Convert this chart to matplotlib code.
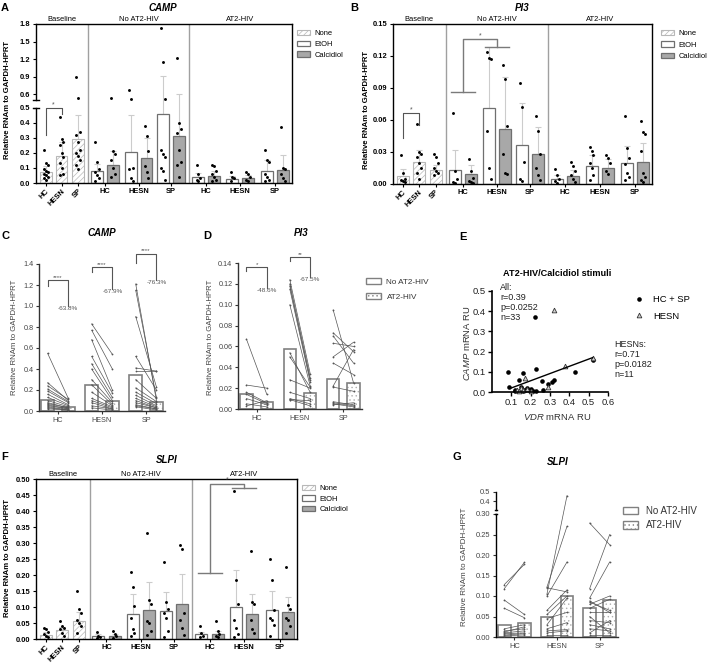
import numpy as np
import matplotlib
matplotlib.use("Agg")
import matplotlib.pyplot as plt
from matplotlib.patches import Patch
from matplotlib.lines import Line2D
import matplotlib.transforms as mtrans

plt.rcParams['font.family'] = ['Liberation Sans', 'DejaVu Sans']
plt.rcParams['mathtext.fontset'] = 'custom'
plt.rcParams['mathtext.it'] = 'Liberation Sans:italic'
plt.rcParams['mathtext.rm'] = 'Liberation Sans'
plt.rcParams['hatch.linewidth'] = 0.5

# ------------------------------------------------------------------ data
groups = ["HC", "HESN", "SP"]
sections = ["Baseline", "No AT2-HIV", "AT2-HIV"]
stimuli = ["None", "EtOH", "Calcidiol"]
conditions = ["No AT2-HIV", "AT2-HIV"]

# Panel A (CAMP) - etoh / calc lists: No AT2-HIV HC,HESN,SP then AT2-HIV HC,HESN,SP
A_none_mean = [0.075, 0.18, 0.29]
A_none_sd = [0.035, 0.09, 0.16]
A_none_pts = [[0.22, 0.13, 0.12, 0.09, 0.08, 0.07, 0.06, 0.05, 0.04, 0.03, 0.02],
              [0.44, 0.29, 0.27, 0.25, 0.20, 0.17, 0.13, 0.10, 0.06, 0.05],
              [0.89, 0.53, 0.34, 0.32, 0.27, 0.22, 0.20, 0.18, 0.15, 0.12, 0.09]]
A_etoh_mean = [0.08, 0.205, 0.46, 0.04, 0.027, 0.08]
A_etoh_sd = [0.045, 0.25, 0.45, 0.025, 0.018, 0.07]
A_etoh_pts = [[0.27, 0.14, 0.09, 0.07, 0.05, 0.03, 0.01],
              [0.67, 0.52, 0.10, 0.09, 0.03, 0.01],
              [1.74, 1.15, 0.52, 0.22, 0.19, 0.17, 0.10, 0.08, 0.02],
              [0.12, 0.06, 0.03, 0.02, 0.01],
              [0.075, 0.04, 0.03, 0.01],
              [0.22, 0.15, 0.14, 0.06, 0.04, 0.02, 0.01]]
A_calc_mean = [0.12, 0.165, 0.315, 0.048, 0.03, 0.088]
A_calc_sd = [0.09, 0.135, 0.285, 0.032, 0.025, 0.10]
A_calc_pts = [[0.54, 0.21, 0.19, 0.15, 0.10, 0.06, 0.04],
              [0.38, 0.31, 0.21, 0.11, 0.07, 0.03],
              [1.21, 0.40, 0.36, 0.33, 0.22, 0.14, 0.12, 0.04],
              [0.12, 0.11, 0.08, 0.06, 0.04, 0.02, 0.01],
              [0.07, 0.06, 0.04, 0.02, 0.01],
              [0.37, 0.10, 0.09, 0.06, 0.03, 0.01]]

# Panel B (PI3)
B_none_mean = [0.0075, 0.021, 0.013]
B_none_sd = [0.007, 0.011, 0.005]
B_none_pts = [[0.027, 0.010, 0.005, 0.004, 0.003, 0.002],
              [0.056, 0.030, 0.028, 0.025, 0.020, 0.015, 0.010, 0.005],
              [0.028, 0.025, 0.020, 0.015, 0.012, 0.010, 0.008]]
B_etoh_mean = [0.013, 0.0715, 0.037, 0.005, 0.017, 0.0195]
B_etoh_sd = [0.019, 0.057, 0.039, 0.003, 0.010, 0.016]
B_etoh_pts = [[0.067, 0.012, 0.005, 0.002, 0.001],
              [0.124, 0.118, 0.117, 0.050, 0.015, 0.005],
              [0.095, 0.072, 0.021, 0.005, 0.003],
              [0.014, 0.008, 0.005, 0.003, 0.001],
              [0.035, 0.031, 0.027, 0.020, 0.015, 0.008, 0.004],
              [0.064, 0.034, 0.024, 0.019, 0.010, 0.007, 0.004]]
B_calc_mean = [0.0095, 0.052, 0.028, 0.0075, 0.015, 0.021]
B_calc_sd = [0.0085, 0.048, 0.025, 0.0055, 0.008, 0.017]
B_calc_pts = [[0.023, 0.012, 0.006, 0.003, 0.002, 0.001],
              [0.112, 0.098, 0.054, 0.028, 0.010, 0.009],
              [0.064, 0.050, 0.028, 0.015, 0.008, 0.004],
              [0.021, 0.017, 0.012, 0.008, 0.005, 0.002],
              [0.027, 0.024, 0.020, 0.012, 0.009],
              [0.059, 0.049, 0.047, 0.031, 0.010, 0.007, 0.004, 0.002]]

# Panel F (SLPI)
F_none_mean = [0.013, 0.028, 0.056]
F_none_sd = [0.009, 0.008, 0.029]
F_none_pts = [[0.035, 0.030, 0.022, 0.015, 0.010, 0.005],
              [0.055, 0.040, 0.035, 0.030, 0.020, 0.010],
              [0.150, 0.095, 0.080, 0.060, 0.050, 0.040, 0.020]]
F_etoh_mean = [0.010, 0.078, 0.088, 0.015, 0.100, 0.091]
F_etoh_sd = [0.006, 0.062, 0.060, 0.007, 0.115, 0.059]
F_etoh_pts = [[0.022, 0.010, 0.005, 0.002],
              [0.210, 0.162, 0.103, 0.065, 0.030, 0.020, 0.010],
              [0.242, 0.115, 0.095, 0.082, 0.065, 0.025, 0.005],
              [0.040, 0.020, 0.010, 0.005],
              [0.463, 0.185, 0.110, 0.058, 0.035, 0.015, 0.005],
              [0.250, 0.184, 0.092, 0.065, 0.060, 0.045, 0.010]]
F_calc_mean = [0.010, 0.091, 0.108, 0.016, 0.078, 0.084]
F_calc_sd = [0.006, 0.087, 0.094, 0.010, 0.062, 0.047]
F_calc_pts = [[0.025, 0.015, 0.008, 0.004],
              [0.332, 0.122, 0.108, 0.055, 0.050, 0.025, 0.012],
              [0.293, 0.280, 0.080, 0.060, 0.035, 0.012],
              [0.055, 0.025, 0.015, 0.010, 0.005],
              [0.276, 0.115, 0.110, 0.058, 0.030, 0.020],
              [0.226, 0.105, 0.095, 0.065, 0.060, 0.040, 0.020]]

# Panel C (CAMP, paired)
C_no_mean = [0.105, 0.245, 0.345]
C_at_mean = [0.038, 0.095, 0.082]
C_no_vals = [[0.55, 0.27, 0.24, 0.21, 0.19, 0.16, 0.13, 0.10, 0.08, 0.07, 0.06, 0.05, 0.04, 0.03, 0.02],
             [0.83, 0.77, 0.68, 0.52, 0.45, 0.40, 0.30, 0.25, 0.18, 0.12, 0.10, 0.08, 0.05, 0.03],
             [1.21, 1.15, 0.90, 0.52, 0.41, 0.38, 0.30, 0.22, 0.18, 0.15, 0.12, 0.10, 0.08, 0.06, 0.05, 0.04]]
C_at_vals = [[0.12, 0.10, 0.11, 0.09, 0.08, 0.06, 0.05, 0.04, 0.03, 0.03, 0.02, 0.02, 0.01, 0.01, 0.01],
             [0.54, 0.40, 0.20, 0.17, 0.13, 0.10, 0.08, 0.06, 0.05, 0.04, 0.03, 0.02, 0.02, 0.01],
             [0.10, 0.13, 0.23, 0.20, 0.38, 0.38, 0.12, 0.09, 0.07, 0.05, 0.04, 0.03, 0.03, 0.02, 0.02, 0.01]]
C_sig = ["****", "****", "****"]
C_change = ["-63.8%", "-67.9%", "-76.3%"]
C_br_top = [1.245, 1.37, 1.50]
C_br_left = [1.19, 1.32, 1.41]
C_br_right = [1.00, 1.16, 1.25]

# Panel D (PI3, paired)
D_no_mean = [0.0144, 0.0575, 0.0288]
D_at_mean = [0.0067, 0.0153, 0.025]
D_no_vals = [[0.067, 0.023, 0.016, 0.014, 0.010, 0.005, 0.003],
             [0.124, 0.120, 0.118, 0.115, 0.100, 0.054, 0.050, 0.028, 0.016, 0.010, 0.009, 0.009],
             [0.095, 0.073, 0.070, 0.063, 0.050, 0.044, 0.022, 0.021, 0.007, 0.006, 0.005, 0.004]]
D_at_vals = [[0.014, 0.020, 0.006, 0.005, 0.004, 0.002, 0.008],
             [0.034, 0.030, 0.028, 0.026, 0.022, 0.016, 0.021, 0.020, 0.010, 0.005, 0.008, 0.003],
             [0.025, 0.055, 0.044, 0.060, 0.064, 0.033, 0.057, 0.017, 0.004, 0.003, 0.002, 0.006]]
D_sig = ["*", "**"]
D_change = ["-48.6%", "-67.5%"]
D_br_top = [0.136, 0.146]
D_br_left = [0.132, 0.142]
D_br_right = [0.116, 0.127]

# Panel E (correlation)
E_hcsp_vdr = [0.085, 0.09, 0.12, 0.12, 0.14, 0.15, 0.155, 0.16, 0.16, 0.17, 0.18, 0.19,
              0.20, 0.21, 0.22, 0.23, 0.23, 0.26, 0.265, 0.29, 0.31, 0.32, 0.43, 0.52]
E_hcsp_camp = [0.10, 0.025, 0.01, 0.005, 0.06, 0.025, 0.015, 0.095, 0.005, 0.01, 0.02, 0.01,
               0.015, 0.005, 0.37, 0.115, 0.005, 0.055, 0.012, 0.04, 0.05, 0.06, 0.10, 0.16]
E_hesn_vdr = [0.32, 0.17, 0.38, 0.29, 0.15, 0.13, 0.16, 0.20, 0.18, 0.52, 0.14]
E_hesn_camp = [0.405, 0.07, 0.13, 0.025, 0.02, 0.01, 0.01, 0.005, 0.015, 0.17, 0.005]
E_fit_vdr = [0.10, 0.52]
E_fit_camp = [0.02, 0.17]
E_all_stats = "All:\nr=0.39\np=0.0252\nn=33"
E_hesn_stats = "HESNs:\nr=0.71\np=0.0182\nn=11"

# Panel G (SLPI, paired)
G_no_mean = [0.030, 0.050, 0.070]
G_at_mean = [0.035, 0.100, 0.091]
G_no_vals = [[0.128, 0.118, 0.090, 0.070, 0.020, 0.015, 0.012, 0.010, 0.008, 0.005, 0.003],
             [0.122, 0.120, 0.105, 0.100, 0.065, 0.055, 0.045, 0.030, 0.020, 0.015, 0.010, 0.005],
             [0.278, 0.118, 0.095, 0.088, 0.085, 0.080, 0.070, 0.060, 0.050, 0.040, 0.030, 0.020, 0.010, 0.005]]
G_at_vals = [[0.177, 0.182, 0.055, 0.047, 0.030, 0.020, 0.025, 0.015, 0.010, 0.008, 0.005],
             [0.270, 0.110, 0.460, 0.183, 0.115, 0.100, 0.060, 0.095, 0.035, 0.018, 0.015, 0.005],
             [0.225, 0.250, 0.183, 0.060, 0.065, 0.100, 0.092, 0.060, 0.010, 0.035, 0.020, 0.015, 0.040, 0.005]]

# ------------------------------------------------------------------ layout
W, H = 708, 663
fig = plt.figure(figsize=(W / 100, H / 100), dpi=100)


def fx(px):
    return px / W


def fy(py):
    return 1 - py / H


def add_ax(l, t, r, b):
    return fig.add_axes([fx(l), fy(b), (r - l) / W, (b - t) / H])


def broken_scale(cut, gap, lo, hi):
    def fwd(y):
        y = np.asarray(y, float)
        return np.where(y <= cut, y * lo, cut * lo + gap + (y - cut) * hi)

    def inv(v):
        v = np.asarray(v, float)
        top = cut * lo
        return np.where(v <= top, v / lo,
                        np.where(v < top + gap, cut, cut + (v - top - gap) / hi))
    return fwd, inv


BASE_X = np.array([3.8, 10.0, 16.5])
PAIR_C = np.array([27.0, 40.1, 52.8, 66.5, 79.8, 93.4])
PAIR_OFF = 3.1
DIV_X = [20.5, 59.7]
SEC_X = [10.2, 40.1, 79.9]
BAR_W = 4.6
ERR_C = '#cccccc'
EDGE_C = '#6f6f6f'
CALC_C = '#a8a8a8'
HATCH_C = '#b8b8b8'


def grouped_panel(ax, nm, nsd, npts, em, esd, epts, cm, csd, cpts):
    ax.set_xlim(0, 100)

    def draw(xs, means, sds, pts, **kw):
        ax.bar(xs, means, BAR_W, zorder=2, **kw)
        ax.errorbar(xs, means, yerr=[np.zeros(len(means)), sds], fmt='none',
                    ecolor=ERR_C, elinewidth=0.8, capsize=2, capthick=0.8, zorder=1.5)
        for x, p in zip(xs, pts):
            offs = ((np.arange(len(p)) % 3) - 1) * 0.7
            ax.plot(x + offs, p, 'o', color='black', ms=2.1, mew=0, zorder=3)

    draw(BASE_X, nm, nsd, npts, facecolor='white', edgecolor=HATCH_C, hatch='//////', lw=0.8)
    draw(PAIR_C - PAIR_OFF, em, esd, epts, facecolor='white', edgecolor=EDGE_C, lw=0.9)
    draw(PAIR_C + PAIR_OFF, cm, csd, cpts, facecolor=CALC_C, edgecolor=EDGE_C, lw=0.9)
    for d in DIV_X:
        ax.axvline(d, color='#a0a0a0', lw=1.0, zorder=1)
    tr = mtrans.blended_transform_factory(ax.transData, ax.transAxes)
    for s, x in zip(sections, SEC_X):
        ax.text(x, 1.008, s, transform=tr, ha='center', va='bottom', fontsize=5.4)
    ax.set_xticks(list(BASE_X) + list(PAIR_C[:3]) + list(PAIR_C[3:]))
    ax.set_xticklabels(groups * 3)
    for i, lbl in enumerate(ax.get_xticklabels()):
        lbl.set_fontweight('bold')
        if i < 3:
            lbl.set_rotation(45)
            lbl.set_ha('right')
            lbl.set_rotation_mode('anchor')
    for lbl in ax.get_yticklabels():
        lbl.set_fontweight('bold')
    ax.tick_params(axis='both', labelsize=5.4, length=2.5, width=0.8, pad=1.5)
    ax.tick_params(axis='x', length=2)
    for sp in ax.spines.values():
        sp.set_linewidth(1.0)
        sp.set_color('black')


def legend_stim(ax, left, top, fs, spacing):
    handles = [Patch(facecolor='white', edgecolor=HATCH_C, hatch='//////', lw=0.8),
               Patch(facecolor='white', edgecolor=EDGE_C, lw=0.9),
               Patch(facecolor=CALC_C, edgecolor=EDGE_C, lw=0.9)]
    ax.legend(handles, stimuli, loc='upper left', bbox_to_anchor=(fx(left), fy(top)),
              bbox_transform=fig.transFigure, frameon=False, fontsize=fs, borderpad=0,
              borderaxespad=0, handlelength=1.7, handleheight=0.75, handletextpad=0.6,
              labelspacing=spacing)


def simple_bracket(ax, x1, x2, ytop, yl, yr, txt, color='#555555', fs=5.0):
    ax.plot([x1, x1, x2, x2], [yl, ytop, ytop, yr], color=color, lw=0.8, clip_on=False, zorder=4)
    ax.text((x1 + x2) / 2, ytop, txt, ha='center', va='bottom', fontsize=fs, color=color)


def group_bracket(ax, xl, xr, yl, yr, ytop, txt, half=4.6, color='#7a7a7a'):
    kw = dict(color=color, lw=1.0, clip_on=False, zorder=4)
    ax.plot([xl - half, xl + half], [yl, yl], **kw)
    ax.plot([xl, xl, xr, xr], [yl, ytop, ytop, yr], **kw)
    ax.plot([xr - half, xr + half], [yr, yr], **kw)
    ax.text((xl + xr) / 2, ytop, txt, ha='center', va='bottom', fontsize=5.0, color='#555555')


def break_spine(ax, cut, ymax):
    ax.spines['left'].set_visible(False)
    tr = mtrans.blended_transform_factory(ax.transAxes, ax.transData)
    kw = dict(color='black', lw=1.0, transform=tr, clip_on=False, zorder=5)
    ax.plot([0, 0], [0, cut], **kw)
    ax.plot([0, 0], [cut + 1e-9, ymax], **kw)
    ax.plot([-0.012, 0.012], [cut, cut], **kw)
    ax.plot([-0.012, 0.012], [cut + 1e-9, cut + 1e-9], **kw)


# ---------------------------------------------------------------- Panel A
axA = add_ax(36, 24, 292, 183)
fwd, inv = broken_scale(0.5, 8, 150, 58.3)
axA.set_yscale('function', functions=(fwd, inv))
grouped_panel(axA, A_none_mean, A_none_sd, A_none_pts, A_etoh_mean, A_etoh_sd, A_etoh_pts,
              A_calc_mean, A_calc_sd, A_calc_pts)
axA.set_ylim(0, 1.8)
axA.set_yticks([0, 0.1, 0.2, 0.3, 0.4, 0.5, 0.6, 0.9, 1.2, 1.5, 1.8])
axA.set_yticklabels(['0.0', '0.1', '0.2', '0.3', '0.4', '0.5', '0.6', '0.9', '1.2', '1.5', '1.8'],
                    fontweight='bold')
axA.yaxis.set_minor_locator(matplotlib.ticker.NullLocator())
break_spine(axA, 0.5, 1.8)
simple_bracket(axA, BASE_X[0], BASE_X[1], 0.5, 0.32, 0.46, '*')
legend_stim(axA, 297, 30, 5.4, 0.45)
fig.text(fx(8), fy(100), 'Relative RNAm to GAPDH-HPRT', rotation=90, ha='center', va='center',
         fontsize=5.6, fontweight='bold')
fig.text(fx(163), fy(8), 'CAMP', ha='center', va='center', fontsize=7, fontweight='bold', style='italic')
fig.text(fx(5), fy(8), 'A', ha='center', va='center', fontsize=8, fontweight='bold')

# ---------------------------------------------------------------- Panel B
axB = add_ax(393, 24, 652, 184)
grouped_panel(axB, B_none_mean, B_none_sd, B_none_pts, B_etoh_mean, B_etoh_sd, B_etoh_pts,
              B_calc_mean, B_calc_sd, B_calc_pts)
axB.set_ylim(0, 0.15)
axB.set_yticks([0, 0.03, 0.06, 0.09, 0.12, 0.15])
axB.set_yticklabels(['0.00', '0.03', '0.06', '0.09', '0.12', '0.15'], fontweight='bold')
simple_bracket(axB, BASE_X[0], BASE_X[1], 0.0665, 0.043, 0.055, '*')
group_bracket(axB, PAIR_C[0], PAIR_C[1], 0.086, 0.128, 0.136, '*')
legend_stim(axB, 661, 30, 5.4, 0.55)
fig.text(fx(367), fy(110), 'Relative RNAm to GAPDH-HPRT', rotation=90, ha='center', va='center',
         fontsize=5.6, fontweight='bold')
fig.text(fx(522), fy(8), 'PI3', ha='center', va='center', fontsize=7, fontweight='bold', style='italic')
fig.text(fx(354), fy(8), 'B', ha='center', va='center', fontsize=8, fontweight='bold')

# ---------------------------------------------------------------- Panel F
axF = add_ax(36, 479, 297, 639)
grouped_panel(axF, F_none_mean, F_none_sd, F_none_pts, F_etoh_mean, F_etoh_sd, F_etoh_pts,
              F_calc_mean, F_calc_sd, F_calc_pts)
axF.set_ylim(0, 0.5)
axF.set_yticks(np.arange(0, 0.501, 0.05))
axF.set_yticklabels(['%.2f' % v for v in np.arange(0, 0.501, 0.05)], fontweight='bold')
group_bracket(axF, PAIR_C[3], PAIR_C[4], 0.206, 0.473, 0.485, '*')
legend_stim(axF, 302, 485, 5.4, 0.4)
fig.text(fx(8), fy(558), 'Relative RNAm to GAPDH-HPRT', rotation=90, ha='center', va='center',
         fontsize=5.6, fontweight='bold')
fig.text(fx(167), fy(460), 'SLPI', ha='center', va='center', fontsize=7, fontweight='bold', style='italic')
fig.text(fx(5), fy(457), 'F', ha='center', va='center', fontsize=8, fontweight='bold')

# ---------------------------------------------------------------- paired panels
PX = np.arange(3)
P_OFF = 0.235
P_W = 0.29
P_EDGE = '#808080'


def paired_panel(ax, no_vals, at_vals, no_mean, at_mean, fs=5.2):
    ax.bar(PX - P_OFF, no_mean, P_W, facecolor='white', edgecolor=P_EDGE, lw=1.2, zorder=1)
    ax.bar(PX + P_OFF, at_mean, P_W, facecolor='white', edgecolor='#b0b0b0', lw=0, hatch='....', zorder=1)
    ax.bar(PX + P_OFF, at_mean, P_W, facecolor='none', edgecolor=P_EDGE, lw=1.2, zorder=1.1)
    for i in range(3):
        for a, b in zip(no_vals[i], at_vals[i]):
            ax.plot([PX[i] - P_OFF, PX[i] + P_OFF], [a, b], color='#555555', lw=0.5,
                    marker='o', ms=1.3, mew=0, zorder=3)
    ax.set_xlim(-0.43, 2.43)
    ax.set_xticks(PX)
    ax.set_xticklabels(groups)
    for s in ['top', 'right']:
        ax.spines[s].set_visible(False)
    for s in ['left', 'bottom']:
        ax.spines[s].set_color('#333333')
        ax.spines[s].set_linewidth(1.0)
    ax.tick_params(axis='both', labelsize=fs, length=2.5, width=0.8, colors='#333333',
                   labelcolor='#444444', pad=1.5)


def legend_pair(ax, left, top, fs, spacing, hl, pad):
    handles = [Patch(facecolor='white', edgecolor=P_EDGE, lw=1.0),
               Patch(facecolor='white', edgecolor=P_EDGE, lw=1.0, hatch='....')]
    ax.legend(handles, conditions, loc='upper left', bbox_to_anchor=(fx(left), fy(top)),
              bbox_transform=fig.transFigure, frameon=False, fontsize=fs, borderpad=0,
              borderaxespad=0, handlelength=hl, handleheight=0.8, handletextpad=pad,
              labelspacing=spacing, labelcolor='#333333')


def paired_brackets(ax, idx, tops, lefts, rights, sigs, changes):
    for k, i in enumerate(idx):
        x1, x2 = PX[i] - P_OFF, PX[i] + P_OFF
        ax.plot([x1, x1, x2, x2], [lefts[k], tops[k], tops[k], rights[k]], color='#555555',
                lw=0.8, clip_on=False, zorder=4)
        ax.text((x1 + x2) / 2, tops[k], sigs[k], ha='center', va='bottom', fontsize=4.5,
                color='#555555')
        ax.text(x2, rights[k], changes[k], ha='center', va='top', fontsize=4.6, color='#555555')


# Panel C
axC = add_ax(39, 264, 165, 411)
paired_panel(axC, C_no_vals, C_at_vals, C_no_mean, C_at_mean)
axC.set_ylim(0, 1.4)
axC.set_yticks(np.arange(0, 1.41, 0.2))
axC.set_yticklabels(['%.1f' % v for v in np.arange(0, 1.41, 0.2)])
paired_brackets(axC, [0, 1, 2], C_br_top, C_br_left, C_br_right, C_sig, C_change)
fig.text(fx(15), fy(337), 'Relative RNAm to GAPDH-HPRT', rotation=90, ha='center', va='center',
         fontsize=5.6, color='#444444')
fig.text(fx(102), fy(233), 'CAMP', ha='center', va='center', fontsize=7, fontweight='bold', style='italic')
fig.text(fx(5), fy(236), 'C', ha='center', va='center', fontsize=8, fontweight='bold')

# Panel D
axD = add_ax(238, 263, 362, 409)
paired_panel(axD, D_no_vals, D_at_vals, D_no_mean, D_at_mean)
axD.set_ylim(0, 0.14)
axD.set_yticks(np.arange(0, 0.141, 0.02))
axD.set_yticklabels(['%.2f' % v for v in np.arange(0, 0.141, 0.02)])
paired_brackets(axD, [0, 1], D_br_top, D_br_left, D_br_right, D_sig, D_change)
legend_pair(axD, 366, 278, 5.9, 0.8, 1.8, 0.7)
fig.text(fx(210), fy(337), 'Relative RNAm to GAPDH-HPRT', rotation=90, ha='center', va='center',
         fontsize=5.6, color='#444444')
fig.text(fx(301), fy(233), 'PI3', ha='center', va='center', fontsize=7, fontweight='bold', style='italic')
fig.text(fx(207), fy(236), 'D', ha='center', va='center', fontsize=8, fontweight='bold')

# Panel G
axG = add_ax(496, 492, 618, 637)
fwdG, invG = broken_scale(0.30, 4, 410, 90)
axG.set_yscale('function', functions=(fwdG, invG))
paired_panel(axG, G_no_vals, G_at_vals, G_no_mean, G_at_mean, fs=5.4)
axG.set_ylim(0, 0.5)
axG.set_yticks([0, 0.05, 0.10, 0.15, 0.20, 0.25, 0.30, 0.4, 0.5])
axG.set_yticklabels(['0.00', '0.05', '0.10', '0.15', '0.20', '0.25', '0.30', '0.4', '0.5'])
axG.yaxis.set_minor_locator(matplotlib.ticker.NullLocator())
break_spine(axG, 0.30, 0.5)
axG.spines['left'].set_visible(False)
legend_pair(axG, 623, 506, 7.0, 0.45, 1.55, 0.8)
fig.text(fx(465), fy(567), 'Relative RNAm to GAPDH-HPRT', rotation=90, ha='center', va='center',
         fontsize=5.8, color='#444444')
fig.text(fx(558), fy(462), 'SLPI', ha='center', va='center', fontsize=7, fontweight='bold', style='italic')
fig.text(fx(457), fy(457), 'G', ha='center', va='center', fontsize=8, fontweight='bold')

# ---------------------------------------------------------------- Panel E
axE = add_ax(492, 291, 608, 392)
axE.plot(E_hcsp_vdr, E_hcsp_camp, 'o', color='black', ms=3.3, mew=0, label='HC + SP', clip_on=False)
axE.plot(E_hesn_vdr, E_hesn_camp, '^', mfc='#cfcfcf', mec='#333333', ms=3.4, mew=0.6,
         label='HESN', clip_on=False)
axE.plot(E_fit_vdr, E_fit_camp, color='black', lw=1.0)
axE.set_xlim(0, 0.6)
axE.set_ylim(0, 0.5)
axE.set_xticks([0.1, 0.2, 0.3, 0.4, 0.5, 0.6])
axE.set_yticks([0, 0.1, 0.2, 0.3, 0.4, 0.5])
axE.set_yticklabels(['0.0', '0.1', '0.2', '0.3', '0.4', '0.5'])
for s in ['top', 'right']:
    axE.spines[s].set_visible(False)
for s in ['left', 'bottom']:
    axE.spines[s].set_linewidth(1.2)
axE.tick_params(axis='both', labelsize=6.8, length=3, width=1.0, pad=1.5, labelcolor='#222222')
axE.legend(loc='upper left', bbox_to_anchor=(fx(633), fy(295)), bbox_transform=fig.transFigure,
           frameon=False, fontsize=6.8, borderpad=0, borderaxespad=0, handlelength=1.3,
           handletextpad=0.85, labelspacing=0.8, numpoints=1)
fig.text(fx(500), fy(283), E_all_stats, ha='left', va='top', fontsize=6.5, linespacing=1.15,
         color='#222222')
fig.text(fx(614), fy(340), E_hesn_stats, ha='left', va='top', fontsize=6.5, linespacing=1.15,
         color='#222222')
fig.text(fx(466), fy(343), r'$\it{CAMP}$ mRNA RU', rotation=90, ha='center', va='center',
         fontsize=6.8, color='#333333')
fig.text(fx(557), fy(417), r'$\it{VDR}$ mRNA RU', ha='center', va='center', fontsize=6.8,
         color='#333333')
fig.text(fx(557), fy(273), 'AT2-HIV/Calcidiol stimuli', ha='center', va='center', fontsize=6.6,
         fontweight='bold')
fig.text(fx(463), fy(237), 'E', ha='center', va='center', fontsize=8, fontweight='bold')

fig.savefig('out.png', dpi=100)
